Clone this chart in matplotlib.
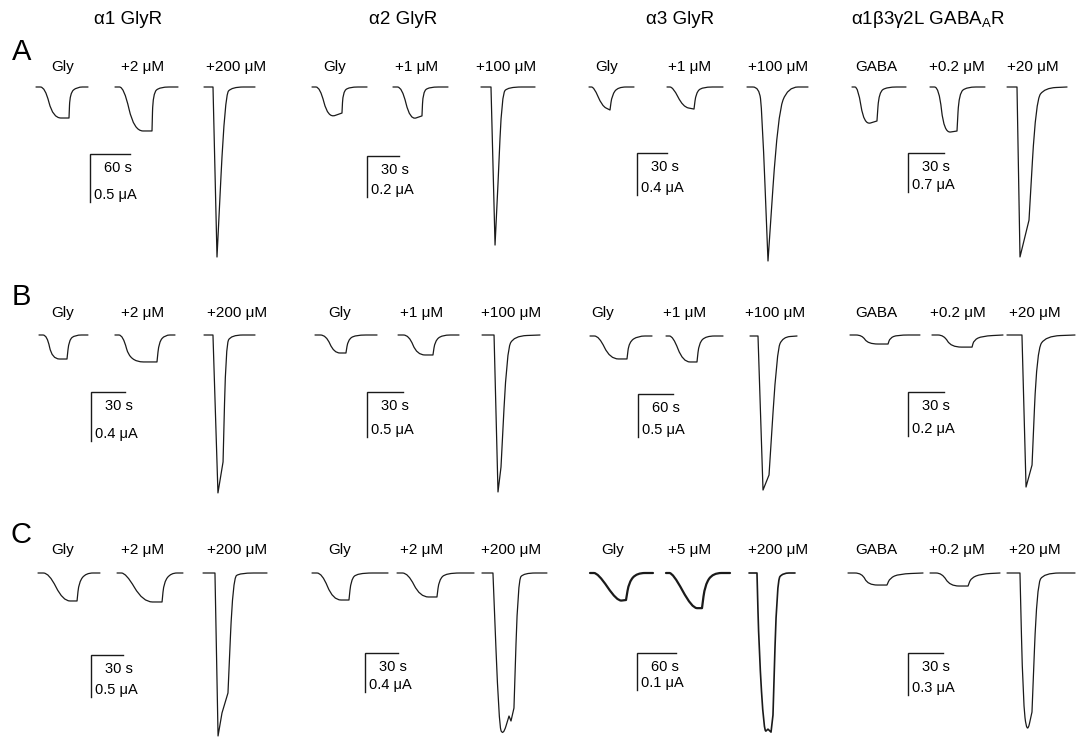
import numpy as np
import matplotlib
matplotlib.use('Agg')
import matplotlib.pyplot as plt
from matplotlib.path import Path
from matplotlib.patches import PathPatch

plt.rcParams['font.family'] = ['Liberation Sans', 'DejaVu Sans']
plt.rcParams['mathtext.fontset'] = 'custom'
plt.rcParams['mathtext.rm'] = 'Liberation Sans'

W, H = 1076, 738

row_letters = ['A', 'B', 'C']
receptors = ['α1 GlyR', 'α2 GlyR', 'α3 GlyR', r'α1β3γ2L GABA$_{\mathrm{A}}$R']

stim = [
    [['Gly', '+2 μM', '+200 μM'], ['Gly', '+1 μM', '+100 μM'],
     ['Gly', '+1 μM', '+100 μM'], ['GABA', '+0.2 μM', '+20 μM']],
    [['Gly', '+2 μM', '+200 μM'], ['Gly', '+1 μM', '+100 μM'],
     ['Gly', '+1 μM', '+100 μM'], ['GABA', '+0.2 μM', '+20 μM']],
    [['Gly', '+2 μM', '+200 μM'], ['Gly', '+2 μM', '+200 μM'],
     ['Gly', '+5 μM', '+200 μM'], ['GABA', '+0.2 μM', '+20 μM']],
]

# scale bars: seconds and microamps
bar_s = [[60, 30, 30, 30], [30, 30, 60, 30], [30, 30, 60, 30]]
bar_ua = [[0.5, 0.2, 0.4, 0.7], [0.4, 0.5, 0.5, 0.2], [0.5, 0.4, 0.1, 0.3]]

# traces: (time s, current uA, corner shape) -- 'o' rounded corner, 'v' sharp
A1 = [([0, 13.5, 25.5, 49.5, 51, 61.5, 78], [0, 0, -0.323, -0.323, -0.062, 0, 0], 'voovoov'),
      ([118.5, 132, 147, 174, 175.5, 186, 213], [0, 0, -0.458, -0.458, -0.062, 0, 0], 'voovoov'),
      ([252, 265.5, 271.5, 283.5, 294, 328.5], [0, 0, -1.771, -0.083, 0, 0], 'vvvoov')]
A2 = [([0, 7.5, 15, 28.1, 29.1, 34.7, 51.6], [0, 0, -0.151, -0.127, -0.024, 0, 0], 'voovoov'),
      ([75.9, 84.4, 91.9, 103.1, 104.1, 109.7, 127.5], [0, 0, -0.161, -0.141, -0.024, 0, 0], 'voovoov'),
      ([158.4, 167.8, 171.6, 174.4, 178.1, 183.8, 209.1], [0, 0, -0.771, -0.468, -0.034, 0, 0], 'vvvvoov')]
A3 = [([0, 5, 13, 21, 23, 29, 45], [0, 0, -0.181, -0.219, -0.076, 0, 0], 'voovoov'),
      ([78, 84, 94, 105, 107, 113, 134], [0, 0, -0.190, -0.210, -0.057, 0, 0], 'voovoov'),
      ([158, 170, 173, 179, 189, 199, 219], [0, 0, -0.219, -1.657, -0.248, 0, 0], 'voovoov')]
A4 = [([0, 5, 10, 20.8, 22.5, 29.2, 45], [0, 0, -0.682, -0.610, -0.090, 0, 0], 'voovoov'),
      ([65, 72.5, 76.7, 87.5, 89.2, 95.8, 110.8], [0, 0, -0.826, -0.790, -0.108, 0, 0], 'voovoov'),
      ([129.2, 137.5, 140, 147.5, 153.3, 160.8, 179.2], [0, 0, -3.05, -2.39, -0.233, -0.018, 0], 'vvvvoov')]

B1 = [([0, 7.1, 11.5, 24.7, 26.5, 31.8, 43.2], [0, 0, -0.196, -0.196, -0.041, 0, 0], 'voovoov'),
      ([67, 74.1, 80.3, 104.1, 105.9, 111.2, 120], [0, 0, -0.220, -0.220, -0.057, 0, 0], 'voovoov'),
      ([145.6, 153.5, 157.9, 162.4, 165, 169.4, 190.6], [0, 0, -1.289, -1.036, -0.082, 0, 0], 'vvvvoov')]
B2 = [([0, 9.2, 15.8, 25.8, 27.5, 33.3, 51.7], [0, 0, -0.2, -0.2, -0.056, 0, 0], 'voovoov'),
      ([69.2, 78.3, 85, 98.3, 100, 105.8, 120], [0, 0, -0.222, -0.222, -0.067, 0, 0], 'voovoov'),
      ([139.2, 149.2, 152.5, 155, 160, 165.8, 187.5], [0, 0, -1.744, -1.467, -0.167, -0.011, 0], 'vvvvoov')]
B3 = [([0, 15.4, 34.3, 63.4, 66.9, 82.3, 106.3], [0, 0, -0.267, -0.267, -0.070, 0, 0], 'voovoov'),
      ([130.3, 142.3, 159.4, 183.4, 186.9, 198.9, 228], [0, 0, -0.302, -0.302, -0.081, 0, 0], 'voovoov'),
      ([274.3, 288, 296.6, 306.9, 320.6, 330.9, 354.9], [0, 0, -1.791, -1.616, -0.163, -0.012, 0], 'vvvvoov')]
B4 = [([0, 10, 15, 31.7, 33.3, 39.2, 58.3], [0, 0, -0.041, -0.041, -0.014, 0, 0], 'voovoov'),
      ([68.3, 78.3, 84.2, 101.7, 103.3, 110, 127.5], [0, 0, -0.055, -0.055, -0.023, -0.005, 0], 'voovoov'),
      ([130.8, 143.3, 146.7, 151.7, 155.8, 163.3, 187.5], [0, 0, -0.691, -0.591, -0.068, -0.005, 0], 'vvvvoov')]

C1 = [([0, 10.3, 23.4, 36.6, 38.4, 45, 58.1], [0, 0, -0.333, -0.333, -0.107, 0, 0], 'voovoov'),
      ([74.1, 82.5, 98.4, 116.3, 118.1, 124.7, 135.9], [0, 0, -0.345, -0.345, -0.107, 0, 0], 'voovoov'),
      ([154.7, 165.9, 168.8, 172.5, 178.1, 182.8, 189.4, 214.7],
       [0, 0, -1.940, -1.666, -1.428, -0.060, 0, 0], 'vvvvvoov')]
C2 = [([0, 9.1, 19.1, 33.6, 35.5, 40.9, 69.1], [0, 0, -0.277, -0.277, -0.072, 0, 0], 'voovoov'),
      ([77.3, 87.3, 98.2, 113.6, 115.5, 121.8, 147.3], [0, 0, -0.246, -0.246, -0.072, 0, 0], 'voovoov'),
      ([154.5, 164.5, 170, 173.6, 179.1, 180.9, 183.6, 187.3, 192.7, 213.6],
       [0, 0, -1.559, -1.672, -1.467, -1.518, -1.385, -0.072, 0, 0], 'vvoovvvoov')]
C3 = [([0, 12.3, 41.5, 55.4, 60, 72.3, 96.9], [0, 0, -0.076, -0.073, -0.024, 0, 0], 'voovoov'),
      ([116.9, 127.7, 156.9, 172.3, 176.9, 189.2, 215.4], [0, 0, -0.095, -0.095, -0.032, 0, 0], 'voovoov'),
      ([244.6, 256.9, 260, 267.7, 273.8, 278.5, 281.5, 287.7, 296.9, 315.4],
       [0, 0, -0.208, -0.432, -0.422, -0.430, -0.384, -0.019, 0, 0], 'vvoovvvoov')]
C4 = [([0, 12, 17.1, 33.4, 36, 43.7, 64.3], [0, 0, -0.086, -0.086, -0.036, -0.007, 0], 'voovoov'),
      ([70.3, 80.6, 87.4, 102.9, 105.4, 114, 130.3], [0, 0, -0.093, -0.093, -0.036, -0.007, 0], 'voovoov'),
      ([136.3, 147.4, 150, 153.4, 157.7, 162, 168, 194.6],
       [0, 0, -0.907, -1.157, -0.993, -0.086, 0, 0], 'vvoovoov')]

traces = [[A1, A2, A3, A4], [B1, B2, B3, B4], [C1, C2, C3, C4]]

# panel layout in pixels: left, baseline, time-bar px, current-bar px, bar corner x, y
layout = [
    [(36, 87, 40, 48, 90, 154), (312, 87, 32, 41, 367, 156),
     (589, 87, 30, 42, 637, 153), (852, 87, 36, 39, 908, 153)],
    [(39, 335, 34, 49, 91, 392), (315, 335, 36, 45, 367, 392),
     (590, 336, 35, 43, 638, 394), (850, 335, 36, 44, 908, 392)],
    [(38, 573, 32, 42, 91, 655), (312, 573, 33, 39, 365, 653),
     (590, 573, 39, 37, 637, 653), (848, 573, 35, 42, 908, 653)],
]
# label centres (px) for the three traces of each panel, and label row y
label_x = [
    [(63, 143, 236), (335, 417, 506), (607, 690, 778), (876, 957, 1033)],
    [(63, 143, 237), (340, 422, 511), (603, 685, 775), (876, 958, 1035)],
    [(63, 143, 237), (340, 422, 511), (613, 690, 778), (876, 957, 1035)],
]
label_y = [67, 313, 550]
letter_pos = [(22, 52), (21, 297), (21, 535)]
header_x = [128, 403, 680, 928]


def trace_path(t, i, shape):
    pts = np.column_stack([t, i]).astype(float)
    verts = [pts[0]]
    codes = [Path.MOVETO]
    for k in range(1, len(pts) - 1):
        if shape[k] == 'o':
            verts += [(pts[k - 1] + pts[k]) / 2, pts[k], (pts[k] + pts[k + 1]) / 2]
            codes += [Path.LINETO, Path.CURVE3, Path.CURVE3]
        else:
            verts.append(pts[k])
            codes.append(Path.LINETO)
    verts.append(pts[-1])
    codes.append(Path.LINETO)
    return Path(verts, codes)


fig = plt.figure(figsize=(W / 100, H / 100), dpi=100)

for c, name in enumerate(receptors):
    fig.text(header_x[c] / W, 1 - 20 / H, name, ha='center', va='center', fontsize=13.5)

for r, letter in enumerate(row_letters):
    lx, ly = letter_pos[r]
    fig.text(lx / W, 1 - ly / H, letter, ha='center', va='center', fontsize=21)

    for c in range(4):
        x0, y0, hpx, vpx, xc, yc = layout[r][c]
        kx = bar_s[r][c] / hpx
        ky = bar_ua[r][c] / vpx
        ax = fig.add_axes([x0 / W, 1 - (y0 + 180) / H, 260 / W, 220 / H])
        ax.set_xlim(0, 260 * kx)
        ax.set_ylim(-180 * ky, 40 * ky)
        ax.axis('off')

        noisy = (r == 2 and c == 2)
        for k, (t, i, shape) in enumerate(traces[r][c]):
            lw = (1.6 if k < 2 else 1.2) if noisy else 0.9
            ax.add_patch(PathPatch(trace_path(t, i, shape), fill=False,
                                   edgecolor='#1a1a1a', lw=lw, clip_on=False,
                                   capstyle='round', joinstyle='round'))
        for k, lab in enumerate(stim[r][c]):
            fig.text(label_x[r][c][k] / W, 1 - label_y[r] / H, lab,
                     ha='center', va='center', fontsize=11)

        # scale bar
        bx = (xc - x0) * kx
        by = -(yc - y0) * ky
        ax.plot([bx + bar_s[r][c], bx, bx], [by, by, by - bar_ua[r][c]],
                color='#1a1a1a', lw=1.0, clip_on=False, solid_joinstyle='miter')
        ax.text(bx + 14 * kx, by - 14 * ky, '%d s' % bar_s[r][c],
                ha='left', va='center', fontsize=10.5)
        ax.text(bx + 4 * kx, by - bar_ua[r][c] + 7 * ky, '%g μA' % bar_ua[r][c],
                ha='left', va='center', fontsize=10.5)

fig.savefig('out.png', dpi=100)
